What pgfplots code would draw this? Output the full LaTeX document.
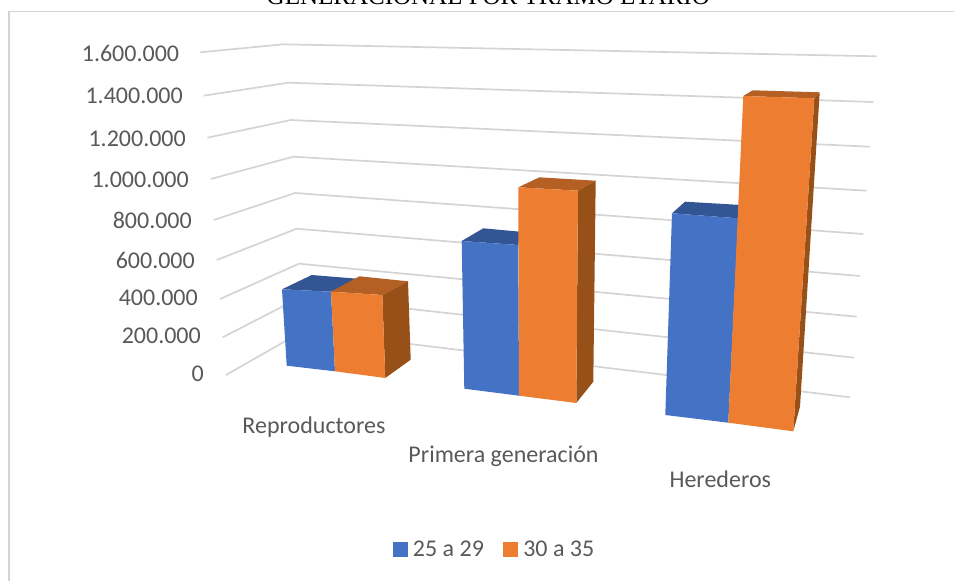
\documentclass[border=0pt]{standalone}
\usepackage{fontspec}
\setmainfont{Carlito}
\newfontfamily\titlefont{Liberation Serif}
\usepackage{pgfplots}
\pgfplotsset{compat=1.18}
\definecolor{lblue}{HTML}{4472C4}
\definecolor{lorange}{HTML}{ED7D31}
\definecolor{topblue}{HTML}{335593}
\definecolor{toporange}{HTML}{B46024}
\definecolor{sideorange}{HTML}{985019}
\definecolor{gridgray}{HTML}{D4D4D4}
\definecolor{txt}{HTML}{595959}
\pgfplotsset{
  grid3d/.style={draw=gridgray, line width=1.7pt, forget plot},
  face/.style={draw=none, fill=#1, forget plot},
}
\begin{document}
\begin{tikzpicture}
  \path[use as bounding box, clip] (0,0) rectangle (954pt,581pt);
  % the chart is a 3-D Excel bar: everything is read off in image pixels
  \begin{axis}[
    at={(0,0)}, anchor=south west,
    scale only axis, width=954pt, height=581pt,
    xmin=0, xmax=954, ymin=0, ymax=581, y dir=reverse,
    axis lines=none,
    legend columns=2,
    legend style={at={(axis cs:393,549)}, anchor=west, draw=none, fill=none,
      font=\fontsize{24}{25}\selectfont\color{txt},
      column sep=0pt, inner sep=0pt, outer sep=0pt,
      /tikz/every even column/.append style={column sep=17.5pt}},
    legend image code/.code={\fill[#1] (0pt,-7pt) rectangle (14pt,7pt);},
  ]
    % frame
    \addplot[draw=gridgray, line width=1.6pt, forget plot] coordinates {(9,581) (9,11.5) (954,11.5)};

    % gridlines, 1.600.000 down to 0
    \addplot[grid3d] coordinates {(200.3,52.3) (283.3,44.3) (876.7,56.3)};
    \addplot[grid3d] coordinates {(203.7,95.7) (288.3,82.7) (873.3,102)};
    \addplot[grid3d] coordinates {(207.3,137.7) (290.7,120) (870,146.7)};
    \addplot[grid3d] coordinates {(210.7,179) (293.3,156.7) (866.7,190.7)};
    \addplot[grid3d] coordinates {(213.7,220) (295,193) (863.3,234)};
    \addplot[grid3d] coordinates {(216.7,260) (296.7,228.7) (860,276)};
    \addplot[grid3d] coordinates {(220,299) (299,263.7) (856.7,316.7)};
    \addplot[grid3d] coordinates {(222.7,337.3) (301,297) (854,357.7)};
    \addplot[grid3d] coordinates {(226,375) (303,331) (850,397.3)};

    % Reproductores
    \addplot[face=topblue] coordinates {(282,289.3) (311.7,275) (361,279) (331,291.7) (282,289.3)};
    \addplot[face=lblue] coordinates {(282,289.3) (331,291.7) (335,371.3) (286.7,365.7) (282,289.3)};
    \addplot[face=toporange] coordinates {(331,291.7) (359.3,276.3) (408,281.3) (382.3,295) (331,291.7)};
    \addplot[face=sideorange] coordinates {(382.3,295) (408,281.3) (410.7,359.7) (385.3,378) (382.3,295)};
    \addplot[face=lorange] coordinates {(331,291.7) (382.3,295) (385.3,378) (335,371.3) (331,291.7)};

    % Primera generacion
    \addplot[face=topblue] coordinates {(461.7,241) (483.3,228.3) (520,231.7) (518.3,245) (461.7,241)};
    \addplot[face=lblue] coordinates {(461.7,241) (518.3,245) (519,395.7) (464.3,388.7) (461.7,241)};
    \addplot[face=toporange] coordinates {(518.3,187.3) (539.3,177.3) (595.7,180.7) (578,190.7) (518.3,187.3)};
    \addplot[face=sideorange] coordinates {(578,190.7) (595.7,180.7) (593.3,381.7) (576.3,403) (578,190.7)};
    \addplot[face=lorange] coordinates {(518.3,187.3) (578,190.7) (576.3,403) (519,395.7) (518.3,187.3)};

    % Herederos
    \addplot[face=topblue] coordinates {(672,213.3) (685,201.7) (745,205.2) (738.3,218.3) (672,213.3)};
    \addplot[face=lblue] coordinates {(672,213.3) (738.3,218.3) (728.3,422.7) (665.3,415) (672,213.3)};
    \addplot[face=toporange] coordinates {(743.3,96) (752.7,90.3) (819.7,92.3) (814.3,98.3) (743.3,96)};
    \addplot[face=sideorange] coordinates {(814.3,98.3) (819.7,92.3) (800,406.7) (793.3,431.3) (814.3,98.3)};
    \addplot[face=lorange] coordinates {(743.3,96) (814.3,98.3) (793.3,431.3) (728.3,422.7) (743.3,96)};

    % legend
    \addlegendimage{lblue}
    \addlegendentry{\hspace{3.5pt}25 a 29}
    \addlegendimage{lorange}
    \addlegendentry{\hspace{3.5pt}30 a 35}

    % value labels, slanted along the left wall
    \begin{scope}[every node/.style={anchor=east, text=txt, font=\fontsize{24}{25}\selectfont, inner sep=0pt}]
      \node at (axis cs:179.3,53.3) {1.600.000};
      \node at (axis cs:183,96.3) {1.400.000};
      \node at (axis cs:186,138.6) {1.200.000};
      \node at (axis cs:189,179.6) {1.000.000};
      \node at (axis cs:192,220.6) {800.000};
      \node at (axis cs:195,260.6) {600.000};
      \node at (axis cs:198,298) {400.000};
      \node at (axis cs:201,336) {200.000};
      \node at (axis cs:204,374) {0};
    \end{scope}
    \begin{scope}[every node/.style={anchor=center, text=txt, font=\fontsize{24}{25}\selectfont, inner sep=0pt}]
      \node at (axis cs:314,426.7) {Reproductores};
      \node at (axis cs:503.5,456) {Primera generación};
      \node at (axis cs:720.3,479) {Herederos};
    \end{scope}
    \node[anchor=base, inner sep=0pt, text=black, font=\titlefont\fontsize{25}{27}\selectfont]
      at (axis cs:488.3,4.5) {GENERACIONAL POR TRAMO ETARIO};
  \end{axis}
\end{tikzpicture}
\end{document}
